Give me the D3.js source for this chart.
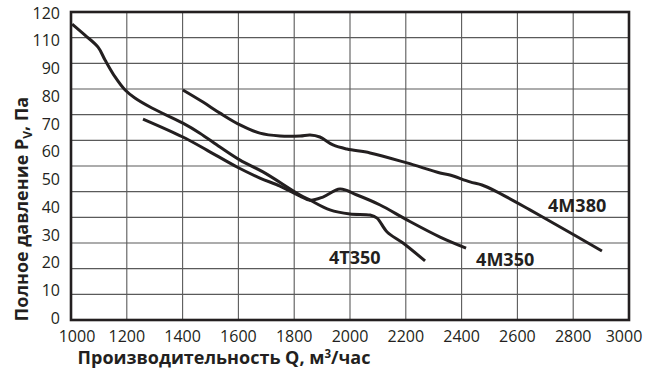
<!DOCTYPE html>
<html>
<head>
<meta charset="utf-8">
<script src="https://cdn.jsdelivr.net/npm/d3@7"></script>
<style>
  html, body { margin: 0; padding: 0; background: #fff; }
  svg { display: block; }
  text { font-family: "Open Sans", "Noto Sans", sans-serif; fill: #231f20; }
</style>
</head>
<body>
<svg id="chart" width="655" height="378"></svg>
<script>
// Fan performance curves: total pressure vs. air flow
const xTickLabels = ["1000", "1200", "1400", "1600", "1800", "2000", "2200", "2400", "2600", "2800", "3000"];
const yTickLabels = ["0", "10", "20", "30", "40", "50", "60", "70", "80", "90", "110", "120"];
const gridY = [0, 10, 20, 30, 40, 50, 60, 70, 80, 90, 100, 110, 120];

const seriesNames = ["4T350", "4M350", "4M380"];

const flow4T350 = [1004, 1050, 1097, 1122, 1158, 1194, 1229, 1290, 1401, 1462, 1534, 1606, 1688, 1821, 1857, 1928, 2000, 2072, 2097, 2133, 2190, 2269];
const pres4T350 = [115.3, 111.0, 106.3, 101.3, 94.7, 89.6, 86.5, 82.6, 76.7, 72.8, 67.4, 62.3, 57.7, 48.7, 46.7, 42.9, 41.3, 40.9, 39.7, 34.3, 30.0, 23.0];

const flow4M350 = [1258, 1401, 1487, 1595, 1677, 1749, 1821, 1857, 1903, 1964, 2025, 2108, 2204, 2323, 2416];
const pres4M350 = [78.3, 71.3, 66.2, 59.6, 55.3, 52.2, 48.3, 46.7, 47.9, 51.0, 48.7, 44.8, 39.0, 32.3, 28.0];

const flow4M380 = [1401, 1473, 1534, 1606, 1677, 1749, 1821, 1857, 1892, 1939, 1989, 2072, 2204, 2323, 2358, 2430, 2473, 2527, 2645, 2728, 2903];
const pres4M380 = [89.6, 84.9, 80.6, 76.0, 72.8, 71.7, 71.7, 72.1, 71.3, 68.2, 66.6, 65.1, 61.2, 57.3, 56.5, 53.8, 52.6, 49.9, 42.9, 37.8, 26.9];

// Label anchor points (flow, pressure) for each curve name
const labelFlow = [1925, 2452, 2710];
const labelPres = [21.8, 21.0, 42.1];

const svg = d3.select("#chart");
const plotL = 71, plotR = 629, plotT = 12, plotB = 320;

const x = d3.scaleLinear().domain([1000, 3000]).range([plotL, plotR]);
const y = d3.scaleLinear().domain([0, 120]).range([plotB, plotT]);
const yLab = d3.scalePoint().domain(yTickLabels).range([318, 13]);

// grid
const grid = svg.append("g");
grid.selectAll("line.v").data(xTickLabels).join("line")
  .attr("class", "v")
  .attr("x1", d => x(+d)).attr("x2", d => x(+d))
  .attr("y1", plotT).attr("y2", plotB)
  .attr("stroke", "#5a5a5a").attr("stroke-width", 1.1);
grid.selectAll("line.h").data(gridY).join("line")
  .attr("class", "h")
  .attr("x1", plotL).attr("x2", plotR)
  .attr("y1", d => y(d)).attr("y2", d => y(d))
  .attr("stroke", "#5a5a5a").attr("stroke-width", 1.1);

// frame
svg.append("rect")
  .attr("x", plotL).attr("y", plotT)
  .attr("width", plotR - plotL).attr("height", plotB - plotT)
  .attr("fill", "none").attr("stroke", "#231f20").attr("stroke-width", 2.6);

// tick labels
svg.append("g").selectAll("text").data(xTickLabels).join("text")
  .attr("x", d => Math.min(Math.max(x(+d), plotL + 6), plotR - 5))
  .attr("y", 342)
  .attr("text-anchor", "middle")
  .attr("font-size", 16)
  .text(d => d);

svg.append("g").selectAll("text").data(yTickLabels).join("text")
  .attr("x", 60)
  .attr("y", d => yLab(d))
  .attr("dy", "0.36em")
  .attr("text-anchor", "end")
  .attr("font-size", 16)
  .text(d => d);

// axis titles
const xt = svg.append("text")
  .attr("x", 224).attr("y", 364)
  .attr("text-anchor", "middle")
  .attr("font-size", 18).attr("font-weight", 700);
xt.append("tspan").text("Производительность Q, м");
xt.append("tspan").attr("font-size", 11.5).attr("dy", -6).text("3");
xt.append("tspan").attr("dy", 6).text("/час");

const yt = svg.append("text")
  .attr("transform", "translate(28,209) rotate(-90)")
  .attr("text-anchor", "middle")
  .attr("font-size", 18).attr("font-weight", 700);
yt.append("tspan").text("Полное давление P");
yt.append("tspan").attr("font-size", 12).attr("dy", 4).text("V");
yt.append("tspan").attr("dy", -4).text(", Па");

// curves
const line = d3.line()
  .x(d => x(d[0])).y(d => y(d[1]))
  .curve(d3.curveCatmullRom.alpha(0.5));

const series = [
  d3.zip(flow4T350, pres4T350),
  d3.zip(flow4M350, pres4M350),
  d3.zip(flow4M380, pres4M380)
];

svg.append("g").selectAll("path").data(series).join("path")
  .attr("d", line)
  .attr("fill", "none")
  .attr("stroke", "#231f20")
  .attr("stroke-width", 3)
  .attr("stroke-linejoin", "round");

// curve names
svg.append("g").selectAll("text").data(seriesNames).join("text")
  .attr("x", (d, i) => x(labelFlow[i]))
  .attr("y", (d, i) => y(labelPres[i]))
  .attr("font-size", 18).attr("font-weight", 700)
  .text(d => d);
</script>
</body>
</html>
